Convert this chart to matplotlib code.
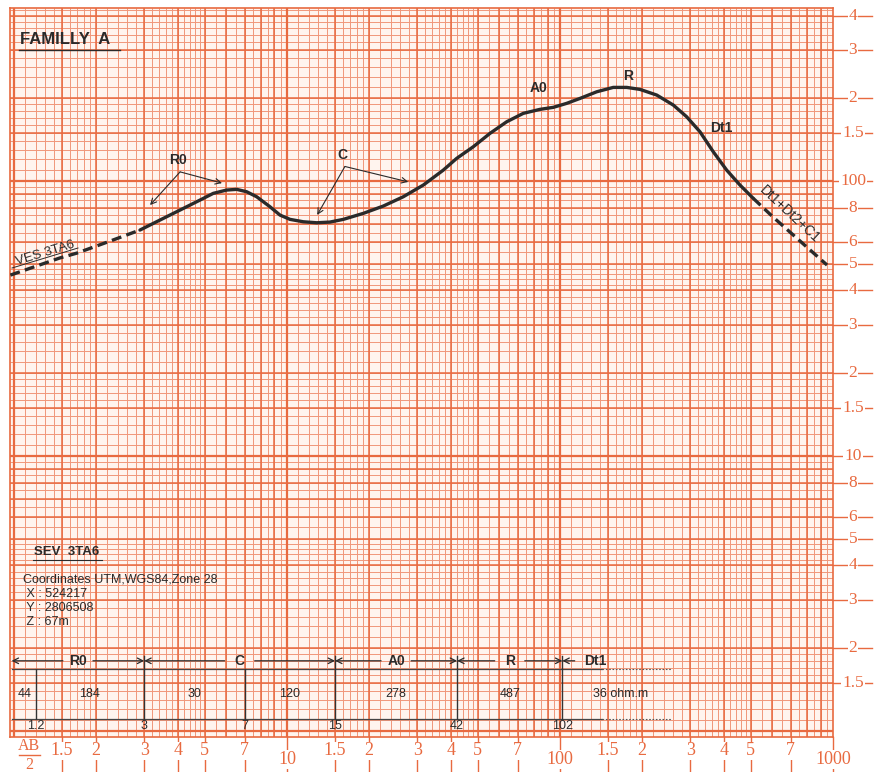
import numpy as np
import matplotlib
matplotlib.use('Agg')
import matplotlib.pyplot as plt
from matplotlib.transforms import blended_transform_factory

# ---------------- data ----------------
ab2_head = [0.97, 1.47, 1.70, 2.25, 2.894]
rho_head = [45.5, 52.5, 54.7, 60.5, 66.36]
ab2_main = [2.894, 3.425, 4.057, 4.801, 5.370, 6.013, 6.543, 7.119, 7.745, 8.665,
            9.428, 10.26, 11.47, 12.85, 14.37, 16.08, 19.03, 22.53, 26.67, 31.58,
            37.37, 41.83, 48.13, 55.41, 63.79, 73.38, 84.48, 94.51, 105.8, 118.4,
            136.3, 156.7, 175.5, 196.3, 226.1, 260.0, 291.1, 325.6, 364.3, 407.9,
            456.3, 510.5]
rho_main = [66.36, 72.14, 78.44, 85.28, 90.22, 92.75, 93.29, 91.44, 87.69, 80.63,
            75.21, 72.56, 71.12, 70.53, 70.94, 72.56, 76.29, 81.12, 87.69, 96.72,
            109.6, 120.9, 133.3, 149.1, 164.3, 176.3, 182.3, 185.4, 191.7, 199.8,
            211.2, 219.1, 219.1, 215.5, 205.5, 189.0, 171.3, 151.1, 127.8, 109.6,
            96.72, 86.51]
ab2_tail = [510.5, 603, 951]
rho_tail = [86.51, 74, 49.5]

layer_bounds = [1.2, 3, 7, 15, 42, 102]
layer_rho = ['44', '184', '30', '120', '278', '487', '36 ohm.m']
unit_names = ['R0', 'C', 'A0', 'R', 'Dt1']
unit_edges = [0.98, 3, 15, 42, 102]

xticks = [1.5, 2, 3, 4, 5, 7, 10, 15, 20, 30, 40, 50, 70, 100, 150, 200, 300, 400, 500, 700, 1000]
xticklabels = ['1.5', '2', '3', '4', '5', '7', '10', '1.5', '2', '3', '4', '5', '7', '100',
               '1.5', '2', '3', '4', '5', '7', '1000']
yticks = [1.5, 2, 3, 4, 5, 6, 8, 10, 15, 20, 30, 40, 50, 60, 80, 100, 150, 200, 300, 400]
yticklabels = ['1.5', '2', '3', '4', '5', '6', '8', '10', '1.5', '2', '3', '4', '5', '6', '8',
               '100', '1.5', '2', '3', '4']

ORANGE = '#E86A40'
FINE = '#F0977A'
DARK = '#2a2a2a'
SANS = ['Liberation Sans', 'DejaVu Sans']
SERIF = ['Liberation Serif', 'DejaVu Serif']

W, H = 877, 772
fig = plt.figure(figsize=(W / 100, H / 100), dpi=100)
L, R, T, B = 10, 833, 8, 737
ax = fig.add_axes([L / W, 1 - B / H, (R - L) / W, (B - T) / H])
ax.set_xscale('log')
ax.set_yscale('log')
XMIN, XMAX = 0.967, 1000
YMIN, YMAX = 0.951, 426
ax.set_xlim(XMIN, XMAX)
ax.set_ylim(YMIN, YMAX)
ax.set_facecolor('#FFF4EE')
for s in ax.spines.values():
    s.set_color(ORANGE)
    s.set_linewidth(1.2)
ax.set_xticks([])
ax.set_yticks([])
ax.minorticks_off()


def fr(px, py):
    return ((px - L) / (R - L), (B - py) / (B - T))


# ---------------- log paper grid ----------------
fine, med, major = [], [], []
for d in [1, 10, 100, 1000]:
    fine += list(d * np.arange(1, 2, 0.1)) + list(d * np.arange(2, 5, 0.2)) + list(d * np.arange(5, 10, 0.5))
    med += [d * v for v in [1.5, 2, 3, 4, 5, 6, 7, 8, 9]]
    major.append(d)
fx = [v for v in fine if XMIN < v < XMAX]
fy = [v for v in fine if YMIN < v < YMAX]
ax.vlines(fx, YMIN, YMAX, color=FINE, lw=0.7, zorder=0.5)
ax.hlines(fy, XMIN, XMAX, color=FINE, lw=0.7, zorder=0.5)
ax.vlines([v for v in med if XMIN < v < XMAX], YMIN, YMAX, color=ORANGE, lw=1.1, zorder=0.6)
ax.hlines([v for v in med if YMIN < v < YMAX], XMIN, XMAX, color=ORANGE, lw=1.1, zorder=0.6)
ax.vlines([v for v in major if XMIN < v < XMAX], YMIN, YMAX, color=ORANGE, lw=1.6, zorder=0.7)
ax.hlines([v for v in major if YMIN < v < YMAX], XMIN, XMAX, color=ORANGE, lw=1.6, zorder=0.7)

# ---------------- axis labels (paper style) ----------------
tr_y = blended_transform_factory(ax.transAxes, ax.transData)
for v, lab in zip(yticks, yticklabels):
    ax.plot([1.0, 1.047], [v, v], transform=tr_y, color=ORANGE, lw=1.0, clip_on=False)
    ax.text(1.0243, v, lab, transform=tr_y, ha='center', va='center', fontsize=12.5,
            family=SERIF, color=ORANGE, bbox=dict(fc='white', ec='none', pad=0.6))
tr_x = blended_transform_factory(ax.transData, ax.transAxes)
for v, lab in zip(xticks, xticklabels):
    ax.plot([v, v], [0, -0.05], transform=tr_x, color=ORANGE, lw=1.0, clip_on=False)
    yy = -0.031 if lab in ('10', '100', '1000') else -0.019
    ax.text(v, yy, lab, transform=tr_x, ha='center', va='center', fontsize=13,
            family=SERIF, color=ORANGE, bbox=dict(fc='white', ec='none', pad=0.5))
ax.text(*fr(29, 746), 'AB', transform=ax.transAxes, ha='center', va='center',
        fontsize=11.5, family=SERIF, color=ORANGE)
ax.text(*fr(29, 765), '2', transform=ax.transAxes, ha='center', va='center',
        fontsize=11.5, family=SERIF, color=ORANGE)
ax.plot(*zip(fr(19, 755), fr(40, 755)), transform=ax.transAxes, color=ORANGE, lw=1, clip_on=False)

# ---------------- curve ----------------
ax.plot(ab2_head, rho_head, color=DARK, lw=2.4, ls=(0, (3, 1.6)), zorder=5)
ax.plot(ab2_main, rho_main, color=DARK, lw=2.4, zorder=5, solid_joinstyle='round',
        solid_capstyle='round')
ax.plot(ab2_tail, rho_tail, color=DARK, lw=2.4, ls=(0, (3, 1.6)), zorder=5)

# ---------------- curve annotations ----------------
akw = dict(arrowstyle='->', color=DARK, lw=0.8, shrinkA=0, shrinkB=0)
ax.text(3.98, 119, 'R0', ha='center', va='center', fontsize=10, weight='bold', family=SANS, color=DARK)
ax.annotate('', xy=(3.15, 81.8), xytext=(4.06, 108), arrowprops=akw)
ax.annotate('', xy=(5.78, 98.3), xytext=(4.06, 108), arrowprops=akw)
ax.text(15.9, 124, 'C', ha='center', va='center', fontsize=10, weight='bold', family=SANS, color=DARK)
ax.annotate('', xy=(12.9, 75.3), xytext=(16.3, 113), arrowprops=akw)
ax.annotate('', xy=(27.8, 99.3), xytext=(16.3, 113), arrowprops=akw)
ax.text(83.1, 218, 'A0', ha='center', va='center', fontsize=10, weight='bold', family=SANS, color=DARK)
ax.text(177, 241, 'R', ha='center', va='center', fontsize=10, weight='bold', family=SANS, color=DARK)
ax.text(389, 156, 'Dt1', ha='center', va='center', fontsize=10, weight='bold', family=SANS, color=DARK)
ax.text(*fr(790, 214), 'Dt1+Dt2+C1', transform=ax.transAxes, ha='center', va='center',
        rotation=-43, fontsize=10, family=SANS, color=DARK, rotation_mode='anchor')
ax.text(*fr(45, 253), 'VES 3TA6', transform=ax.transAxes, ha='center', va='center',
        rotation=17, fontsize=9.5, family=SANS, color=DARK, rotation_mode='anchor')
ax.plot(*zip(fr(12, 268), fr(78, 248)), transform=ax.transAxes, color=DARK, lw=0.7)

# title
ax.text(*fr(20, 40), 'FAMILLY  A', transform=ax.transAxes, ha='left', va='center',
        fontsize=12, weight='bold', family=SANS, color=DARK)
ax.plot(*zip(fr(19, 50), fr(120, 50)), transform=ax.transAxes, color=DARK, lw=1.0)

# station info
ax.text(*fr(34, 552), 'SEV  3TA6', transform=ax.transAxes, ha='left', va='center',
        fontsize=9.5, weight='bold', family=SANS, color=DARK)
ax.plot(*zip(fr(33, 560), fr(102, 560)), transform=ax.transAxes, color=DARK, lw=0.8)
info = ['Coordinates UTM,WGS84,Zone 28', ' X : 524217', ' Y : 2806508', ' Z : 67m']
for i, s in enumerate(info):
    ax.text(*fr(23, 580 + 14 * i), s, transform=ax.transAxes, ha='left', va='center',
            fontsize=9, family=SANS, color=DARK)

# ---------------- bottom table ----------------
Y_ARROW, Y_TOP, Y_MID, Y_BOT, Y_DEP = 1.80, 1.68, 1.36, 1.11, 1.04
gap = 1.135
for i, name in enumerate(unit_names):
    a = unit_edges[i]
    if i + 1 < len(unit_edges):
        b = unit_edges[i + 1]
        c = np.sqrt(a * b)
        ax.annotate('', xy=(a, Y_ARROW), xytext=(c / gap, Y_ARROW), arrowprops=dict(akw, lw=0.9))
        ax.annotate('', xy=(b, Y_ARROW), xytext=(c * gap, Y_ARROW), arrowprops=dict(akw, lw=0.9))
        ax.text(c, Y_ARROW, name, ha='center', va='center', fontsize=10, weight='bold',
                family=SANS, color=DARK)
    else:
        c = a * 1.11
        ax.annotate('', xy=(a, Y_ARROW), xytext=(c, Y_ARROW), arrowprops=dict(akw, lw=0.9))
        ax.text(c * 1.19, Y_ARROW, name, ha='center', va='center', fontsize=10, weight='bold',
                family=SANS, color=DARK)

end_solid, end_dot = 143, 257
for yy in (Y_TOP, Y_BOT):
    ax.plot([0.98, end_solid], [yy, yy], color='#444', lw=0.9, zorder=4)
    ax.plot([end_solid, end_dot], [yy, yy], color='#555', lw=0.8, ls=(0, (1.5, 1.5)), zorder=4)
for d in layer_bounds:
    top = 1.87 if d in unit_edges else Y_TOP
    ax.plot([d, d], [Y_BOT, top], color='#333', lw=1.0, zorder=4)
    ax.text(d, Y_DEP, ('%g' % d), ha='center', va='center', fontsize=9, family=SANS, color=DARK)
edges = [XMIN * 1.03] + layer_bounds + [215]
for i, lab in enumerate(layer_rho):
    c = np.sqrt(edges[i] * edges[i + 1])
    if i == len(layer_rho) - 1:
        c = 166
    ax.text(c, Y_MID, lab, ha='center', va='center', fontsize=9, family=SANS, color=DARK)

fig.savefig('out.png', dpi=100, facecolor='white')
